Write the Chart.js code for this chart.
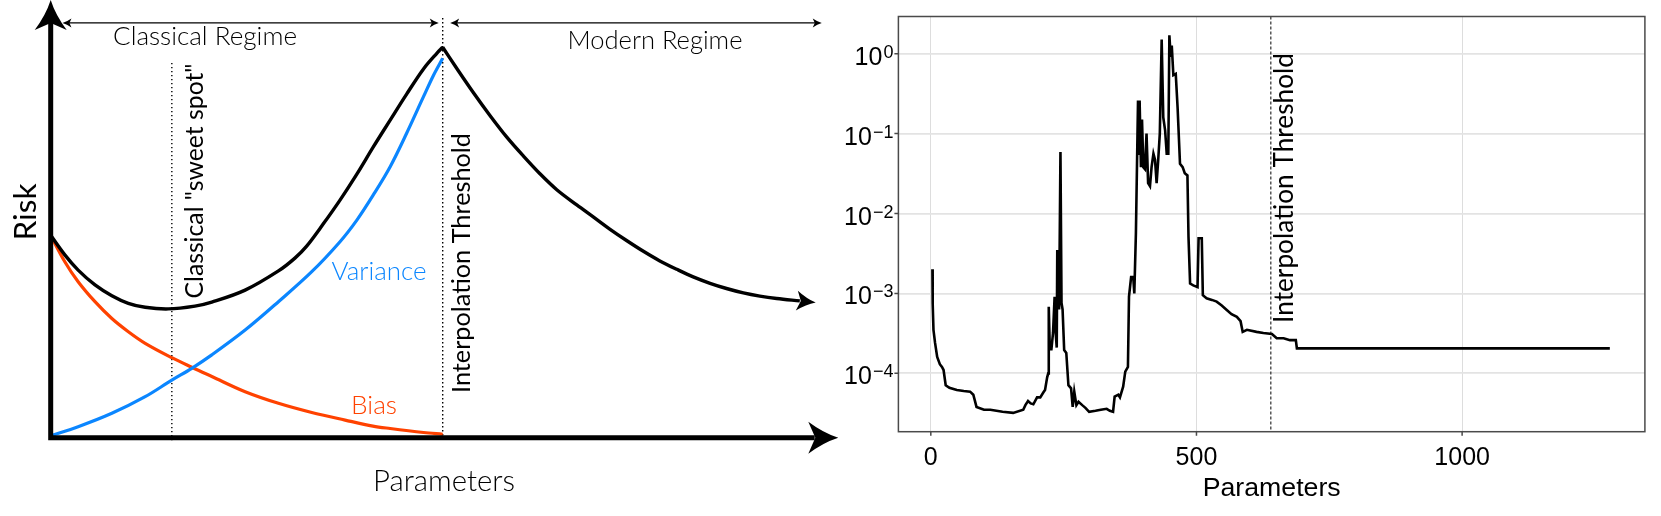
<!DOCTYPE html>
<html>
<head>
<meta charset="utf-8">
<script src="https://cdn.jsdelivr.net/npm/chart.js@4.4.0/dist/chart.umd.min.js"></script>
<style>
  body { margin: 0; background: #fff; }
  #wrap { position: relative; width: 1661px; height: 516px; }
  canvas { position: absolute; top: 0; }
  #sketch { left: 0; }
  #measured { left: 830px; }
</style>
</head>
<body>
<div id="wrap">
  <canvas id="sketch" width="850" height="516"></canvas>
  <canvas id="measured" width="831" height="516"></canvas>
</div>
<script>
'use strict';

// ---- left panel: the textbook sketch (x in arbitrary units, threshold at 100) ----
const classicalX = [0, 3.6, 7.0, 11.3, 15.6, 19.8, 24.1, 30.0, 36.8, 41.1, 49.6, 58.1, 62.3, 65.3, 69.5, 73.8, 78.1, 82.3, 86.6, 90.8, 95.1, 98.5, 100];
const classicalRisk = [50.6, 45.7, 41.9, 38.2, 35.5, 33.6, 32.6, 32.2, 32.9, 33.9, 36.9, 41.7, 44.9, 47.9, 53.4, 59.4, 65.9, 72.7, 79.4, 85.9, 92.2, 96.1, 97.6];
const modernX = [100, 103.6, 107.8, 112.1, 116.3, 120.6, 124.8, 129.1, 134.2, 138.4, 142.7, 146.9, 151.2, 155.4, 159.7, 163.9, 168.2, 172.4, 176.7, 180.9, 185.2, 191.1];
const modernRisk = [97.6, 92.3, 86.3, 80.5, 75.2, 70.4, 66.0, 62.0, 58.2, 55.2, 52.1, 49.3, 46.6, 44.2, 42.1, 40.2, 38.6, 37.3, 36.2, 35.4, 34.8, 34.2];
const biasX = [0, 3.6, 7.0, 11.3, 15.6, 19.8, 24.1, 30.9, 36.0, 41.1, 49.6, 58.1, 66.6, 75.1, 82.2, 86.6, 95.1, 100];
const bias = [50.6, 44.0, 39.0, 34.0, 29.8, 26.5, 23.6, 20.0, 17.6, 15.3, 11.5, 8.6, 6.3, 4.4, 2.9, 2.3, 1.3, 0.85];
const varianceX = [0, 7.0, 15.6, 24.1, 30.9, 36.0, 41.1, 49.6, 58.1, 66.6, 73.8, 78.1, 82.3, 86.6, 90.8, 95.1, 97.6, 100];
const variance = [0.5, 2.75, 6.1, 10.25, 14.4, 17.35, 20.7, 26.9, 34.0, 41.5, 49.0, 54.4, 60.7, 67.75, 76.1, 85.25, 90.5, 94.85];
const sweetSpotX = 30.9;
const thresholdX = 100;
const regimeArrowY = 103.7;

// ---- right panel: measured test risk vs number of parameters ----
const params = [3, 3.5, 5, 8, 12, 17, 21, 24, 28, 35,
  49, 62, 74, 80, 86, 100, 112, 135, 155, 174,
  178, 183, 188, 193, 200, 206, 212, 215, 219, 221,
  222, 224, 227, 230, 233, 235, 237, 238, 240, 241.5,
  244, 246, 248, 251, 255, 259, 264, 267, 270, 274,
  278, 285, 291, 298, 310, 320, 331, 337, 343, 346,
  353, 356, 362, 366, 371, 373, 377, 381, 383, 386,
  388.5, 390, 392, 393, 395.5, 397.5, 400, 403, 406, 409,
  412.5, 415.5, 419, 422, 425, 428, 431, 434.5, 437.5, 441,
  444, 447, 449, 451.5, 453.5, 456.5, 461, 464.5, 469, 474,
  478, 483, 485, 488, 494, 502, 504, 510, 512, 519,
  529, 538, 547, 557, 566, 576, 583, 587, 595, 613,
  626, 642, 651, 664, 676, 687, 689, 1278];
const testRisk = [2.0e-3, 7.6e-4, 3.5e-4, 2.4e-4, 1.6e-4, 1.3e-4, 1.2e-4, 1.1e-4, 7.1e-5, 6.6e-5,
  6.2e-5, 6.0e-5, 5.9e-5, 5.4e-5, 3.8e-5, 3.5e-5, 3.5e-5, 3.3e-5, 3.2e-5, 3.5e-5,
  4.0e-5, 4.5e-5, 4.2e-5, 4.1e-5, 5.0e-5, 5.0e-5, 5.8e-5, 6.2e-5, 8.9e-5, 1.0e-4,
  6.8e-4, 2.0e-4, 2.0e-4, 3.2e-4, 9.1e-4, 3.2e-4, 2.1e-4, 3.5e-3, 8.3e-4, 6.3e-4,
  5.9e-2, 7.6e-4, 6.3e-4, 1.95e-4, 1.8e-4, 7.1e-5, 6.5e-5, 3.8e-5, 5.9e-5, 4.0e-5,
  4.4e-5, 4.0e-5, 3.7e-5, 3.3e-5, 3.4e-5, 3.5e-5, 3.6e-5, 3.4e-5, 3.3e-5, 5.1e-5,
  5.4e-5, 5.0e-5, 6.8e-5, 1.05e-4, 1.2e-4, 9.1e-4, 1.6e-3, 1.6e-3, 1.0e-3, 5.6e-3,
  6.2e-2, 0.26, 5.6e-2, 0.26, 3.8e-2, 0.15, 3.8e-2, 3.6e-2, 0.10, 2.4e-2,
  2.2e-2, 3.8e-2, 5.6e-2, 4.7e-2, 2.4e-2, 4.7e-2, 0.10, 1.5, 0.16, 0.11,
  5.6e-2, 5.6e-2, 1.7, 0.91, 1.26, 0.54, 0.56, 0.21, 4.2e-2, 3.8e-2,
  3.2e-2, 3.0e-2, 5.1e-3, 1.33e-3, 1.26e-3, 1.2e-3, 4.9e-3, 4.9e-3, 9.5e-4, 8.7e-4,
  8.3e-4, 7.9e-4, 7.1e-4, 6.2e-4, 5.5e-4, 5.1e-4, 4.5e-4, 3.3e-4, 3.5e-4, 3.3e-4,
  3.2e-4, 3.1e-4, 2.75e-4, 2.75e-4, 2.6e-4, 2.6e-4, 2.05e-4, 2.05e-4];
const paramTicks = [0, 500, 1000];
const riskTicks = [1e-4, 1e-3, 1e-2, 1e-1, 1];
const interpolationThreshold = 640;

const biasColor = '#ff4200';
const varianceColor = '#0b86ff';
const sketchFont = 'Lato';
const plotFont = '"Liberation Sans", Arial, sans-serif';

const toPoints = (xs, ys) => xs.map((x, i) => ({ x: x, y: ys[i] }));

//font size picked so the text is as long as in the picture
function fitFont(ctx, text, family, weight, width) {
  ctx.font = weight + ' 40px ' + family;
  const size = 40 * width / ctx.measureText(text).width;
  return weight + ' ' + size.toFixed(2) + 'px ' + family;
}

function drawLabel(ctx, text, x, y, o) {
  ctx.save();
  ctx.translate(x, y);
  if (o.rotate) ctx.rotate(-Math.PI / 2);
  ctx.font = o.width ? fitFont(ctx, text, o.family || sketchFont, o.weight || '300', o.width) : o.font;
  ctx.fillStyle = o.color || '#000';
  ctx.textAlign = o.align || 'center';
  ctx.textBaseline = o.baseline || 'middle';
  ctx.fillText(text, 0, 0);
  ctx.restore();
}

//latex-ish arrow head, tip at (x, y) pointing along angle
function arrowHead(ctx, x, y, angle, len, half, notch) {
  ctx.save();
  ctx.translate(x, y);
  ctx.rotate(angle);
  ctx.beginPath();
  ctx.moveTo(0, 0);
  ctx.quadraticCurveTo(-len * 0.5, half * 0.3, -len, half);
  ctx.lineTo(-len + notch, 0);
  ctx.lineTo(-len, -half);
  ctx.quadraticCurveTo(-len * 0.5, -half * 0.3, 0, 0);
  ctx.closePath();
  ctx.fill();
  ctx.restore();
}

function doubleArrow(ctx, x1, x2, y) {
  ctx.beginPath();
  ctx.moveTo(x1 + 4, y);
  ctx.lineTo(x2 - 4, y);
  ctx.stroke();
  arrowHead(ctx, x1, y, Math.PI, 9, 4.5, 2);
  arrowHead(ctx, x2, y, 0, 9, 4.5, 2);
}

const sketchDecor = {
  id: 'sketchDecor',
  beforeDatasetsDraw(chart) {
    const ctx = chart.ctx, xs = chart.scales.x, ys = chart.scales.y;
    ctx.save();
    ctx.strokeStyle = '#000';
    ctx.lineWidth = 1.4;
    ctx.setLineDash([1.3, 2.7]);
    let px = xs.getPixelForValue(sweetSpotX);
    ctx.beginPath();
    ctx.moveTo(px, ys.getPixelForValue(93.7));
    ctx.lineTo(px, ys.getPixelForValue(-1));
    ctx.stroke();
    px = xs.getPixelForValue(thresholdX);
    ctx.beginPath();
    ctx.moveTo(px, ys.getPixelForValue(104.9));
    ctx.lineTo(px, ys.getPixelForValue(0));
    ctx.stroke();
    ctx.restore();
  },
  afterDatasetsDraw(chart) {
    const ctx = chart.ctx, xs = chart.scales.x, ys = chart.scales.y;
    const x0 = xs.getPixelForValue(0), y0 = ys.getPixelForValue(0);
    ctx.save();
    ctx.fillStyle = '#000';
    ctx.strokeStyle = '#000';

    //thick axes with arrows
    ctx.lineWidth = 5;
    ctx.beginPath();
    ctx.moveTo(x0, y0 + 2.5);
    ctx.lineTo(x0, 22);
    ctx.moveTo(x0 - 2.5, y0);
    ctx.lineTo(xs.right - 20, y0);
    ctx.stroke();
    arrowHead(ctx, x0, 0, -Math.PI / 2, 30, 16, 7);
    arrowHead(ctx, xs.right + 3.6, y0, 0, 30, 16, 7);

    //arrow at the end of the risk curve
    const n = modernX.length;
    const ax = xs.getPixelForValue(modernX[n - 1]), ay = ys.getPixelForValue(modernRisk[n - 1]);
    const bx = xs.getPixelForValue(modernX[n - 2]), by = ys.getPixelForValue(modernRisk[n - 2]);
    const ang = Math.atan2(ay - by, ax - bx);
    arrowHead(ctx, ax + 16 * Math.cos(ang), ay + 16 * Math.sin(ang), ang, 19, 10, 4);

    //regime arrows on top
    ctx.lineWidth = 1.4;
    const ry = ys.getPixelForValue(regimeArrowY);
    doubleArrow(ctx, xs.getPixelForValue(3.0), xs.getPixelForValue(99.0), ry);
    doubleArrow(ctx, xs.getPixelForValue(101.9), xs.getPixelForValue(196.7), ry);
    ctx.restore();

    drawLabel(ctx, 'Classical Regime', 205, 37, { width: 184 });
    drawLabel(ctx, 'Modern Regime', 655, 41, { width: 175 });
    drawLabel(ctx, 'Risk', 26, 212, { width: 57, rotate: true, weight: 'normal' });
    drawLabel(ctx, 'Parameters', 444, 482, { width: 142 });
    drawLabel(ctx, 'Classical "sweet spot"', 195, 181, { width: 235, rotate: true, weight: 'normal' });
    drawLabel(ctx, 'Interpolation Threshold', 462, 263, { width: 260, rotate: true, weight: 'normal' });
    drawLabel(ctx, 'Variance', 379, 272, { width: 95, color: varianceColor });
    drawLabel(ctx, 'Bias', 374, 406, { width: 46, color: biasColor });
  }
};

new Chart(document.getElementById('sketch'), {
  type: 'line',
  data: {
    datasets: [
      { data: toPoints(classicalX, classicalRisk), borderColor: '#000', borderWidth: 3.4 },
      { data: toPoints(modernX, modernRisk), borderColor: '#000', borderWidth: 3.4 },
      { data: toPoints(varianceX, variance), borderColor: varianceColor, borderWidth: 3.2 },
      { data: toPoints(biasX, bias), borderColor: biasColor, borderWidth: 3.2 }
    ]
  },
  options: {
    responsive: false,
    animation: false,
    devicePixelRatio: 1,
    layout: { padding: { left: 50.7, right: 15.3, top: 1.7, bottom: 78.3 } },
    elements: {
      point: { radius: 0 },
      line: { tension: 0.35, fill: false, borderJoinStyle: 'round' }
    },
    datasets: { line: { clip: false } },
    scales: {
      x: { type: 'linear', min: 0, max: 200, display: false },
      y: { type: 'linear', min: 0, max: 109, display: false }
    },
    plugins: { legend: { display: false }, tooltip: { enabled: false } }
  },
  plugins: [sketchDecor]
});

const measuredDecor = {
  id: 'measuredDecor',
  beforeDatasetsDraw(chart) {
    const ctx = chart.ctx, a = chart.chartArea;
    const px = chart.scales.x.getPixelForValue(interpolationThreshold);
    ctx.save();
    ctx.strokeStyle = '#000';
    ctx.lineWidth = 1;
    ctx.setLineDash([3, 2]);
    ctx.beginPath();
    ctx.moveTo(px, a.top);
    ctx.lineTo(px, a.bottom);
    ctx.stroke();
    ctx.restore();
  },
  afterDraw(chart) {
    const ctx = chart.ctx, a = chart.chartArea, xs = chart.scales.x, ys = chart.scales.y;
    ctx.save();
    ctx.strokeStyle = '#4a4a4a';
    ctx.lineWidth = 1.5;
    ctx.strokeRect(a.left, a.top, a.right - a.left, a.bottom - a.top);
    ctx.beginPath();
    paramTicks.forEach(v => {
      const px = xs.getPixelForValue(v);
      ctx.moveTo(px, a.bottom);
      ctx.lineTo(px, a.bottom + 4);
    });
    riskTicks.forEach(v => {
      const py = ys.getPixelForValue(v);
      ctx.moveTo(a.left - 4, py);
      ctx.lineTo(a.left, py);
    });
    ctx.stroke();

    ctx.fillStyle = '#000';
    ctx.textBaseline = 'alphabetic';
    ctx.textAlign = 'center';
    ctx.font = '25px ' + plotFont;
    paramTicks.forEach(v => ctx.fillText(String(v), xs.getPixelForValue(v), a.bottom + 33.5));

    //10 with a raised exponent
    ctx.textAlign = 'left';
    riskTicks.forEach(v => {
      const py = ys.getPixelForValue(v);
      const e = Math.round(Math.log10(v));
      const sup = e < 0 ? '\u2212' + (-e) : String(e);
      ctx.font = '18px ' + plotFont;
      const ws = ctx.measureText(sup).width;
      ctx.font = '25px ' + plotFont;
      const wb = ctx.measureText('10').width;
      const x = a.left - 6 - ws - wb;
      ctx.fillText('10', x, py + 11);
      ctx.font = '18px ' + plotFont;
      ctx.fillText(sup, x + wb + 1, py + 4);
    });
    ctx.restore();

    drawLabel(ctx, 'Parameters', (a.left + a.right) / 2, 489, { width: 138, family: plotFont, weight: 'normal' });
    drawLabel(ctx, 'Interpolation Threshold', 455, 188, { width: 270, rotate: true, weight: 'normal' });
  }
};

new Chart(document.getElementById('measured'), {
  type: 'line',
  data: {
    datasets: [{
      data: toPoints(params, testRisk),
      borderColor: '#000',
      borderWidth: 2.6,
      pointRadius: 0,
      tension: 0,
      fill: false
    }]
  },
  options: {
    responsive: false,
    animation: false,
    devicePixelRatio: 1,
    layout: { padding: { left: 68.4, right: 16.1, top: 16.5, bottom: 84.3 } },
    scales: {
      x: {
        type: 'linear', min: -61, max: 1344,
        afterBuildTicks: s => { s.ticks = paramTicks.map(v => ({ value: v })); },
        afterFit: s => { s.height = 0; },
        ticks: { display: false },
        border: { display: false },
        grid: { color: '#dddddd', lineWidth: 1, drawTicks: false }
      },
      y: {
        type: 'logarithmic', min: 1.86e-5, max: 2.92,
        afterBuildTicks: s => { s.ticks = riskTicks.map(v => ({ value: v })); },
        afterFit: s => { s.width = 0; },
        ticks: { display: false },
        border: { display: false },
        grid: { color: '#e3e3e3', lineWidth: 1.8, drawTicks: false }
      }
    },
    plugins: { legend: { display: false }, tooltip: { enabled: false } }
  },
  plugins: [measuredDecor]
});
</script>
</body>
</html>
